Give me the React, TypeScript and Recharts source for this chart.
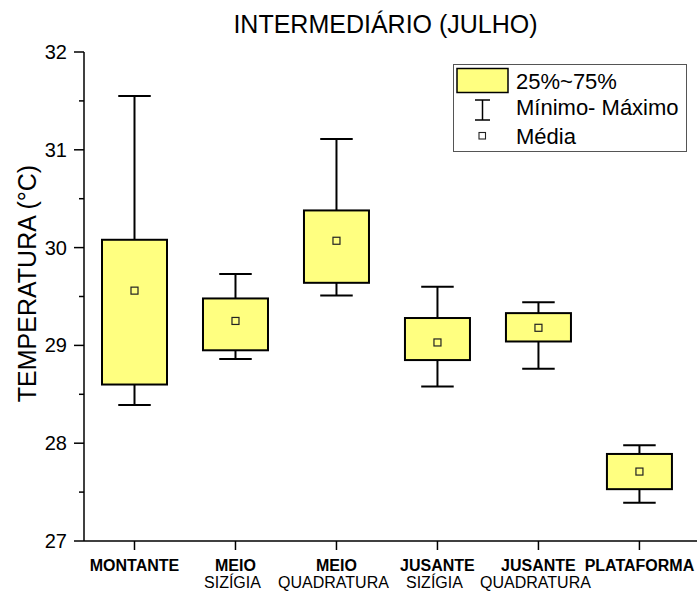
import React from 'react';
import { ComposedChart, Bar, XAxis, YAxis } from 'recharts';

const categories = ['MONTANTE', 'MEIO', 'MEIO', 'JUSANTE', 'JUSANTE', 'PLATAFORMA'];
const subLabels = ['', 'SIZÍGIA', 'QUADRATURA', 'SIZÍGIA', 'QUADRATURA', ''];
const minValues = [28.39, 28.86, 29.51, 28.58, 28.76, 27.39];
const q1Values = [28.6, 28.95, 29.64, 28.85, 29.04, 27.53];
const q3Values = [30.08, 29.48, 30.38, 29.28, 29.33, 27.89];
const maxValues = [31.55, 29.73, 31.11, 29.6, 29.44, 27.98];
const meanValues = [29.56, 29.25, 30.07, 29.03, 29.18, 27.71];
const yTicks = [27, 27.5, 28, 28.5, 29, 29.5, 30, 30.5, 31, 31.5, 32];
const xTicks = [1, 2, 3, 4, 5, 6];

const data = categories.map((c, i) => ({
  pos: i + 1,
  name: c,
  min: minValues[i],
  q1: q1Values[i],
  q3: q3Values[i],
  max: maxValues[i],
  mean: meanValues[i],
}));

const FONT = '"Liberation Sans", Arial, sans-serif';
const BOX_FILL = '#FFFF80';

const BoxShape = (props: any) => {
  const { x, y, width, height, payload } = props;
  if (payload == null || height == null) return null;
  const { min, q1, q3, max, mean } = payload;
  const k = height / (max - min);
  const yOf = (v: number) => y + (max - v) * k;
  const cx = x + width / 2;
  const cap = width / 4;
  const yMax = yOf(max), yQ3 = yOf(q3), yQ1 = yOf(q1), yMin = yOf(min), yMean = yOf(mean);
  return (
    <g>
      <line x1={cx} x2={cx} y1={yMax} y2={yQ3} stroke="#000" strokeWidth={2} />
      <line x1={cx} x2={cx} y1={yQ1} y2={yMin} stroke="#000" strokeWidth={2} />
      <line x1={cx - cap} x2={cx + cap} y1={yMax} y2={yMax} stroke="#000" strokeWidth={2} />
      <line x1={cx - cap} x2={cx + cap} y1={yMin} y2={yMin} stroke="#000" strokeWidth={2} />
      <rect x={x} y={yQ3} width={width} height={yQ1 - yQ3} fill={BOX_FILL} stroke="#000" strokeWidth={2} />
      <rect x={cx - 3.5} y={yMean - 3.5} width={7} height={7} fill="none" stroke="#222" strokeWidth={1.2} />
    </g>
  );
};

const YTick = (props: any) => {
  const { x, y, payload } = props;
  const v = payload.value;
  const major = Math.abs(v - Math.round(v)) < 1e-6;
  return (
    <g>
      <line x1={x - (major ? 10 : 5)} x2={x} y1={y} y2={y} stroke="#000" strokeWidth={1.5} />
      {major && (
        <text x={x - 17} y={y} dy="0.35em" textAnchor="end" fontFamily={FONT} fontSize={20} fill="#000">
          {v}
        </text>
      )}
    </g>
  );
};

const XTick = (props: any) => {
  const { x, y, payload } = props;
  const i = Math.round(payload.value) - 1;
  return (
    <g>
      <line x1={x} x2={x} y1={y - 9} y2={y} stroke="#000" strokeWidth={1.5} />
      <text x={x} y={y + 21} textAnchor="middle" fontFamily={FONT} fontWeight="bold" fontSize={16} fill="#000">
        {categories[i]}
      </text>
      {subLabels[i] && (
        <text x={x - 3} y={y + 38} textAnchor="middle" fontFamily={FONT} fontSize={16} fill="#000">
          {subLabels[i]}
        </text>
      )}
    </g>
  );
};

const YLabel = (props: any) => {
  const vb = props.viewBox || { x: 0, y: 52, width: 84, height: 489 };
  const cx = vb.x + 36;
  const cy = vb.y + vb.height / 2 - 13;
  return (
    <text x={cx} y={cy} textAnchor="middle" fontFamily={FONT} fontSize={25} fill="#000" transform={`rotate(-90, ${cx}, ${cy})`}>
      TEMPERATURA (°C)
    </text>
  );
};

export default function App() {
  return (
    <div style={{ position: 'absolute', left: 0, top: 0, width: 697, height: 591, background: '#fff' }}>
      <ComposedChart width={697} height={591} data={data} margin={{ top: 52, right: 0, bottom: 0, left: 0 }}>
        <XAxis
          dataKey="pos"
          type="number"
          domain={[0.5, 6.57]}
          allowDataOverflow
          ticks={xTicks}
          tick={<XTick />}
          tickLine={false}
          tickSize={9}
          tickMargin={0}
          height={50}
          axisLine={{ stroke: '#000', strokeWidth: 1.5 }}
          interval={0}
        />
        <YAxis
          type="number"
          domain={[27, 32]}
          allowDataOverflow
          ticks={yTicks}
          tick={<YTick />}
          tickLine={false}
          tickSize={0}
          tickMargin={0}
          width={84}
          interval={0}
          axisLine={{ stroke: '#000', strokeWidth: 1.5 }}
          label={{ content: <YLabel /> }}
        />
        <Bar
          dataKey={(d: any) => [d.min, d.max]}
          barSize={65}
          shape={<BoxShape />}
          isAnimationActive={false}
        />
      </ComposedChart>
      <svg width={697} height={591} style={{ position: 'absolute', left: 0, top: 0, pointerEvents: 'none' }}>
        <text x={385.5} y={33} textAnchor="middle" fontFamily={FONT} fontSize={25} fill="#000">
          INTERMEDIÁRIO (JULHO)
        </text>
        <rect x={453.5} y={64.5} width={233} height={87} fill="#fff" stroke="#555" strokeWidth={1} />
        <rect x={457} y={68.5} width={51} height={24} fill={BOX_FILL} stroke="#000" strokeWidth={1.5} />
        <text x={516} y={89} fontFamily={FONT} fontSize={22} fill="#000">25%~75%</text>
        <line x1={482.5} x2={482.5} y1={100} y2={120} stroke="#000" strokeWidth={1.5} />
        <line x1={475} x2={490} y1={100} y2={100} stroke="#000" strokeWidth={1.5} />
        <line x1={475} x2={490} y1={120} y2={120} stroke="#000" strokeWidth={1.5} />
        <text x={516} y={115} fontFamily={FONT} fontSize={22} fill="#000">Mínimo- Máximo</text>
        <rect x={479} y={132.5} width={6.5} height={6.5} fill="none" stroke="#222" strokeWidth={1.1} />
        <text x={516} y={144} fontFamily={FONT} fontSize={22} fill="#000">Média</text>
      </svg>
    </div>
  );
}
